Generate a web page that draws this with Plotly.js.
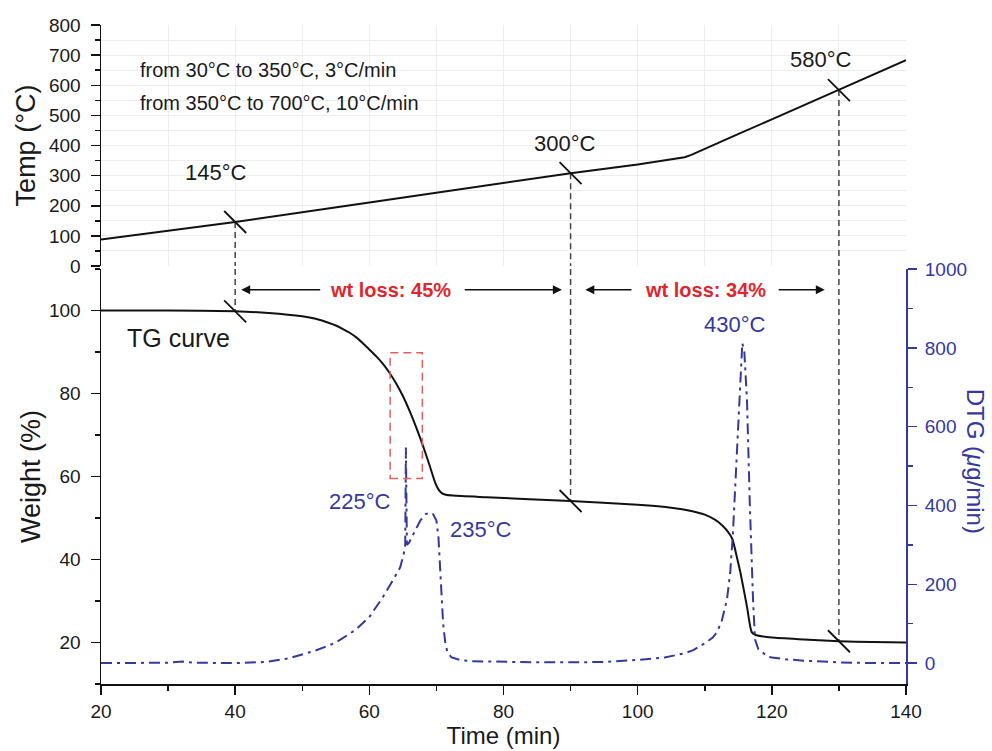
<!DOCTYPE html>
<html>
<head>
<meta charset="utf-8">
<script src="https://cdn.plot.ly/plotly-3.0.1.min.js"></script>
<style>html,body{margin:0;padding:0;background:#fff;}#chart{width:992px;height:751px;}</style>
</head>
<body>
<div id="chart"></div>
<script>
// ---- Temperature programme (top panel) ----
const tempTime = [20, 30, 40, 60, 80, 90, 100, 106, 107, 108, 110, 114.2, 120, 130, 140];
const tempVal  = [88, 117, 146, 211, 276, 308, 337, 357, 361, 369, 388, 430, 487, 586, 683];

// ---- TG curve (weight %) ----
const tgTime = [20, 30, 40, 45, 50, 52, 54, 55, 56, 57, 58, 59, 60, 61, 62, 63, 64, 65, 66, 67, 68, 69, 69.8, 70.3, 70.8, 71.4, 72.5, 77.5, 90, 100, 105, 108, 110, 111.5, 112.5, 113.3, 114.1, 114.8, 115.3, 116.3, 117, 117.6, 118.5, 120, 124, 130, 135, 140];
const tgVal  = [100, 100, 99.8, 99.4, 98.6, 98.0, 97.0, 96.4, 95.6, 94.7, 93.6, 92.2, 90.6, 89.0, 87.2, 85.0, 82.4, 79.4, 75.8, 71.8, 67.4, 62.6, 58.6, 56.9, 56.0, 55.6, 55.4, 55.0, 54.1, 53.2, 52.5, 51.7, 50.8, 49.6, 48.4, 47.0, 45.0, 40.5, 37, 28.6, 22.5, 21.8, 21.5, 21.2, 20.8, 20.3, 20.1, 20.0];

// ---- DTG curve (ug/min) ----
const dtgTime = [20, 25, 30, 32.2, 34, 40, 44.7, 48, 50, 52, 55, 58, 60, 62, 63.5, 64.6, 65.1, 65.35, 65.45, 65.6, 65.9, 66.5, 67.6, 68.4, 69, 69.5, 70, 70.3, 70.6, 71, 71.3, 71.6, 72.2, 73.5, 75, 80, 85, 90, 95, 100, 104, 107, 108.3, 110, 111.2, 111.8, 112.5, 113.3, 113.8, 114.2, 114.7, 115.2, 115.6, 115.9, 116.3, 116.7, 117, 117.2, 117.5, 118, 119.3, 120, 122, 125, 130, 135, 140];
const dtgVal  = [0, 0, 1, 4, 1, 0, 3, 12, 22, 32, 52, 85, 117, 167, 210, 243, 275, 300, 547, 300, 305, 325, 362, 378, 382, 378, 362, 320, 230, 100, 55, 30, 15, 8, 5, 3, 2, 2, 3, 8, 14, 25, 33, 50, 65, 78, 105, 160, 230, 330, 500, 700, 812, 790, 666, 413, 250, 160, 60, 35, 18, 14, 10, 6, 2, 0, 0];

// ---- Marked points ----
const markTime   = [40, 90, 130];
const markTemp   = [146, 308, 584];
const markWeight = [99.8, 54.1, 20.3];
const markLabels = ['145°C', '300°C', '580°C'];
const markLabelX = [37.2, 89.2, 127.3];
const markLabelY = [309, 405, 687];

// ---- Weight-loss arrows: [tip, tail] in minutes ----
const lossArrows = [[40.9, 52.9], [88.7, 74.0], [92.2, 99.3], [127.9, 120.8]];
const lossLabels = ['wt loss: 45%', 'wt loss: 34%'];
const lossLabelX = [63.2, 110.1];
const lossLevel = 105;

// ---- Peak labels ----
const peakLabels = ['225°C', '235°C', '430°C'];
const peakX = [58.6, 76.6, 114.5];
const peakY = [53.9, 47.3, 96.7];

// ---- Highlight box ----
const boxX = [63.1, 67.9];
const boxY = [59.5, 89.8];

const programme = ['from 30°C to 350°C, 3°C/min', 'from 350°C to 700°C, 10°C/min'];
const programmeY = [651, 541];

const tempRange = [0, 800];
const weightRange = [10, 110];
const dtgRange = [-53, 1000];

const BLUE = '#3438a0';
const FONT = 'Liberation Sans, Arial, Helvetica, sans-serif';

const traces = [];
traces.push({x: tempTime, y: tempVal, xaxis: 'x2', yaxis: 'y2', mode: 'lines',
  line: {color: '#111', width: 2}, hoverinfo: 'skip'});
traces.push({x: tgTime, y: tgVal, xaxis: 'x', yaxis: 'y', mode: 'lines',
  line: {color: '#111', width: 2, shape: 'spline', smoothing: 0.6}, hoverinfo: 'skip'});
traces.push({x: dtgTime, y: dtgVal, xaxis: 'x', yaxis: 'y3', mode: 'lines',
  line: {color: BLUE, width: 2, dash: '11px,5px,3px,5px'}, hoverinfo: 'skip'});

// vertical dashed guide lines
markTime.forEach((t, i) => {
  traces.push({x: [t, t], y: [markTemp[i], tempRange[0]], xaxis: 'x2', yaxis: 'y2', mode: 'lines',
    line: {color: '#444', width: 1.5, dash: '6px,4px'}, hoverinfo: 'skip'});
  traces.push({x: [t, t], y: [weightRange[1], markWeight[i]], xaxis: 'x', yaxis: 'y', mode: 'lines',
    line: {color: '#444', width: 1.5, dash: '6px,4px'}, hoverinfo: 'skip'});
});
// slash markers
traces.push({x: markTime, y: markTemp, xaxis: 'x2', yaxis: 'y2', mode: 'markers',
  marker: {symbol: 'line-nw', size: 22, line: {color: '#111', width: 1.8}}, hoverinfo: 'skip'});
traces.push({x: markTime, y: markWeight, xaxis: 'x', yaxis: 'y', mode: 'markers',
  marker: {symbol: 'line-nw', size: 22, line: {color: '#111', width: 1.8}}, hoverinfo: 'skip'});

const annotations = [];
programme.forEach((s, i) => annotations.push({x: 25.5, y: programmeY[i], xref: 'x2', yref: 'y2',
  text: s, showarrow: false, xanchor: 'left', yanchor: 'middle', font: {size: 20, color: '#1a1a1a'}}));
markLabels.forEach((s, i) => annotations.push({x: markLabelX[i], y: markLabelY[i], xref: 'x2', yref: 'y2',
  text: s, showarrow: false, xanchor: 'center', yanchor: 'middle', font: {size: 22, color: '#1a1a1a'}}));
annotations.push({x: 31.5, y: 93.4, xref: 'x', yref: 'y', text: 'TG curve', showarrow: false,
  xanchor: 'center', yanchor: 'middle', font: {size: 25, color: '#1a1a1a'}});
peakLabels.forEach((s, i) => annotations.push({x: peakX[i], y: peakY[i], xref: 'x', yref: 'y',
  text: s, showarrow: false, xanchor: 'center', yanchor: 'middle', font: {size: 22, color: BLUE}}));
lossLabels.forEach((s, i) => annotations.push({x: lossLabelX[i], y: lossLevel, xref: 'x', yref: 'y',
  text: '<b>' + s + '</b>', showarrow: false, xanchor: 'center', yanchor: 'middle', font: {size: 20, color: '#e0262b'}}));
lossArrows.forEach(a => annotations.push({x: a[0], y: lossLevel, ax: a[1], ay: lossLevel,
  xref: 'x', yref: 'y', axref: 'x', ayref: 'y', text: '', showarrow: true,
  arrowhead: 2, arrowsize: 1.2, arrowwidth: 1.5, arrowcolor: '#111'}));
annotations.push({x: 1.086, y: 0.3384, xref: 'paper', yref: 'paper', text: 'DTG (<i>μ</i>g/min)',
  textangle: 90, showarrow: false, xanchor: 'center', yanchor: 'middle', font: {size: 24, color: BLUE}});

const axisCommon = {showline: true, linecolor: '#111', ticks: 'outside', tickcolor: '#111',
  tickwidth: 1.5, ticklen: 9, zeroline: false, tickfont: {size: 19, color: '#1a1a1a'}};

const layout = {
  width: 992, height: 751,
  margin: {l: 101, r: 86, t: 25, b: 67},
  paper_bgcolor: '#fff', plot_bgcolor: '#fff',
  showlegend: false,
  font: {family: FONT, color: '#1a1a1a'},
  xaxis: Object.assign({}, axisCommon, {domain: [0, 1], range: [20, 140], anchor: 'y', linewidth: 2,
    tick0: 0, dtick: 20, showgrid: false,
    minor: {dtick: 10, ticks: 'outside', ticklen: 5, tickwidth: 1.5, tickcolor: '#111', showgrid: false},
    title: {text: 'Time (min)', font: {size: 24}, standoff: 2}}),
  yaxis: Object.assign({}, axisCommon, {domain: [0, 0.6297], range: weightRange, anchor: 'x', linewidth: 1.5,
    tick0: 0, dtick: 20, showgrid: false, ticklabelstandoff: 6,
    minor: {dtick: 10, ticks: 'outside', ticklen: 5, tickwidth: 1.5, tickcolor: '#111', showgrid: false},
    title: {text: 'Weight (%)', font: {size: 27}, standoff: 0}}),
  yaxis3: Object.assign({}, axisCommon, {overlaying: 'y', side: 'right', anchor: 'x', range: dtgRange,
    linecolor: BLUE, tickcolor: BLUE, linewidth: 2, tick0: 0, dtick: 200, showgrid: false,
    tickfont: {size: 19, color: BLUE}, ticklabelstandoff: 4,
    minor: {dtick: 100, ticks: 'outside', ticklen: 5, tickwidth: 1.5, tickcolor: BLUE, showgrid: false}}),
  xaxis2: {domain: [0, 1], range: [20, 140], anchor: 'y2', showline: false, showticklabels: false,
    ticks: '', showgrid: true, gridcolor: '#ededed', gridwidth: 1, dtick: 10, tick0: 0, zeroline: false},
  yaxis2: Object.assign({}, axisCommon, {domain: [0.6343, 1], range: tempRange, anchor: 'x2', linewidth: 1.5,
    tick0: 0, dtick: 100, showgrid: true, gridcolor: '#ededed', ticklabelstandoff: 6,
    minor: {dtick: 50, ticks: 'outside', ticklen: 5, tickwidth: 1.5, tickcolor: '#111', showgrid: true, gridcolor: '#ededed'},
    title: {text: 'Temp (°C)', font: {size: 27}, standoff: 5}}),
  shapes: [{type: 'rect', xref: 'x', yref: 'y', x0: boxX[0], x1: boxX[1], y0: boxY[0], y1: boxY[1],
    line: {color: '#e06060', width: 1.5, dash: '8px,5px'}, fillcolor: 'rgba(0,0,0,0)'}],
  annotations: annotations
};

Plotly.newPlot('chart', traces, layout, {staticPlot: true, displayModeBar: false});
</script>
</body>
</html>
